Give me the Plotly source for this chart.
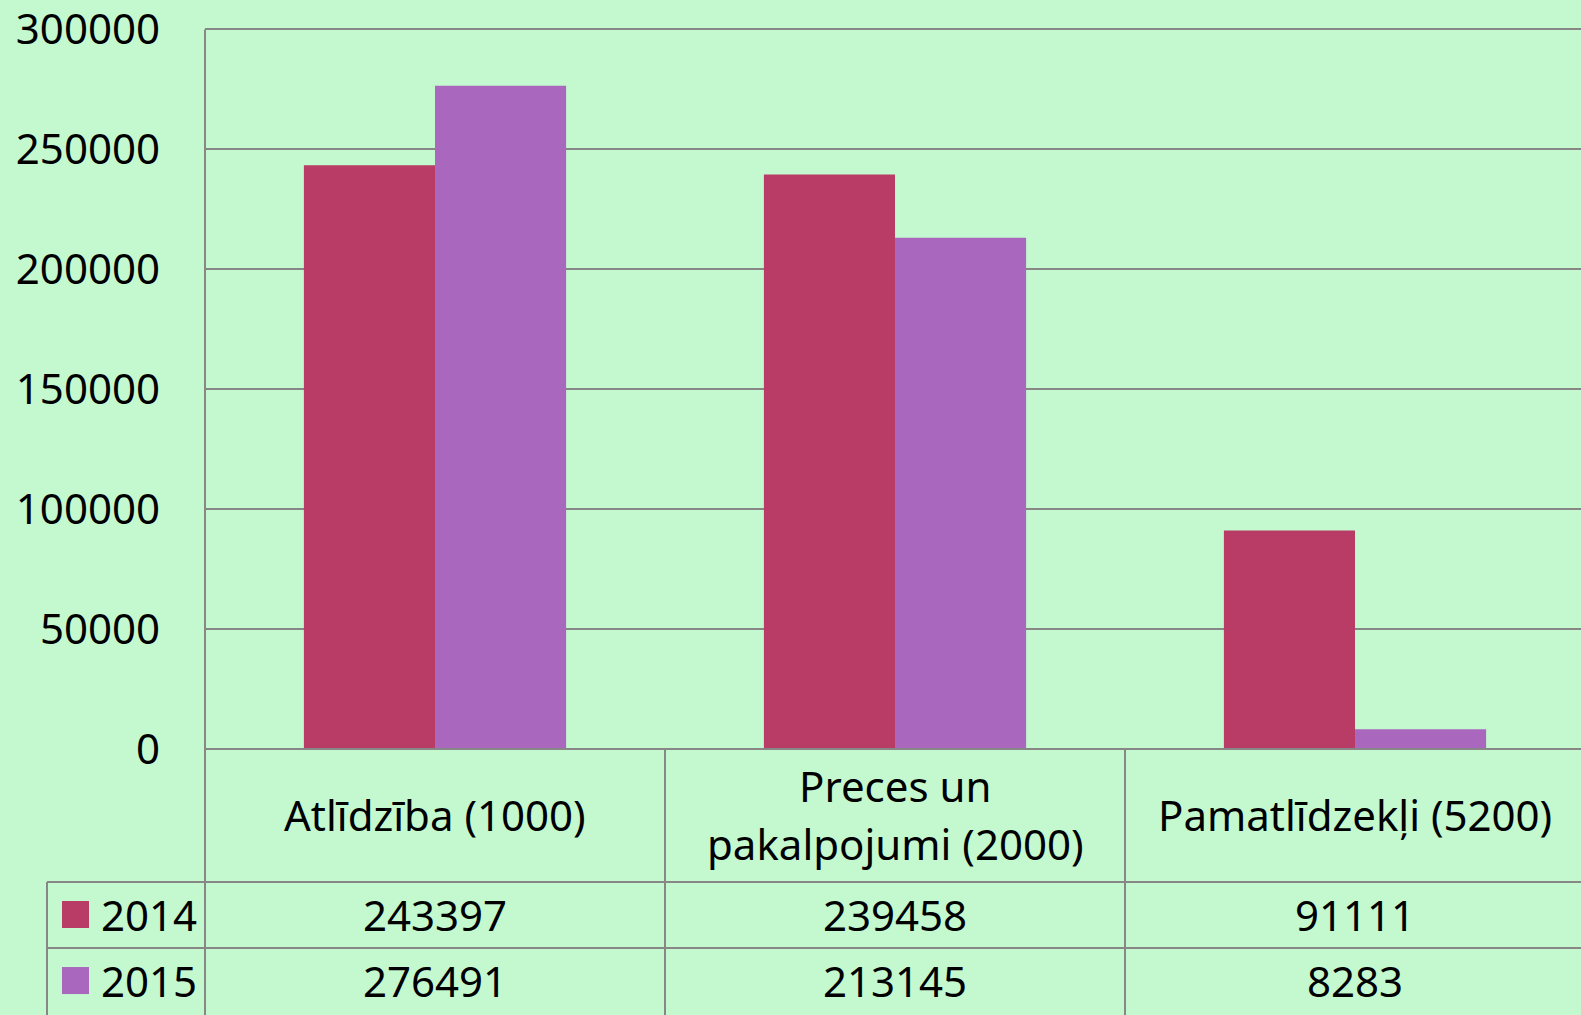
import plotly.graph_objects as go

# ---- data ----
categories = ["Atlīdzība (1000)", "Preces un pakalpojumi (2000)", "Pamatlīdzekļi (5200)"]
header_lines = [["Atlīdzība (1000)"], ["Preces un", "pakalpojumi (2000)"], ["Pamatlīdzekļi (5200)"]]
series_names = ["2014", "2015"]
values_2014 = [243397, 239458, 91111]
values_2015 = [276491, 213145, 8283]
y_ticks = [0, 50000, 100000, 150000, 200000, 250000, 300000]

series_values = [values_2014, values_2015]
colors = ["#B93C66", "#A967BE"]
BG = "#C4F8CF"
LINE = "#878787"
FONT = "Noto Sans"
FS = 42

W, H = 1581, 1015
YMAX = 301000
ZERO_PX = 749.0
TOP_PX = 29.5
PH = (ZERO_PX - TOP_PX) * YMAX / 300000.0
L, R = 205, 0
B = H - ZERO_PX
T = ZERO_PX - PH
PW = W - L - R
COLW = 460.0  # px per category

def px2x(px):
    return (px - L) / PW

def py2y(py):
    return (ZERO_PX - py) / PH

fig = go.Figure()
for name, vals, col in zip(series_names, series_values, colors):
    fig.add_trace(go.Bar(x=list(range(len(categories))), y=vals, name=name,
                         marker=dict(color=col, line=dict(width=0))))

xmax = -0.5 + PW / COLW

shapes = []
annotations = []
line = dict(color=LINE, width=2)
ncat = len(categories)
y_head_bot = py2y(882)
y_row1_bot = py2y(948)
y_bottom = py2y(H + 2)
y_top = 300000 / YMAX
x_leg_left = px2x(47)
shapes.append(dict(type="line", xref="paper", yref="paper", x0=0, x1=1.01, y0=0, y1=0, line=line))
shapes.append(dict(type="line", xref="paper", yref="paper", x0=x_leg_left, x1=1.01, y0=y_head_bot, y1=y_head_bot, line=line))
shapes.append(dict(type="line", xref="paper", yref="paper", x0=x_leg_left, x1=1.01, y0=y_row1_bot, y1=y_row1_bot, line=line))
shapes.append(dict(type="line", xref="paper", yref="paper", x0=x_leg_left, x1=x_leg_left, y0=y_head_bot, y1=y_bottom, line=line))
for i in range(ncat + 1):
    xp = i * COLW / PW
    shapes.append(dict(type="line", xref="paper", yref="paper", x0=xp, x1=xp,
                       y0=y_top if i == 0 else 0, y1=y_bottom, line=line))

# header labels
LINE_GAP = 58
HEAD_CENTER = 814
for i, lines in enumerate(header_lines):
    xc = (i + 0.5) * COLW / PW
    n = len(lines)
    for k, txt in enumerate(lines):
        yc = HEAD_CENTER + (k - (n - 1) / 2.0) * LINE_GAP
        annotations.append(dict(xref="paper", yref="paper", x=xc, y=py2y(yc), text=txt,
                                showarrow=False, xanchor="center", yanchor="middle",
                                font=dict(family=FONT, size=FS, color="black")))
# value rows
row_centers = [914, 980]
for r, (name, vals, col) in enumerate(zip(series_names, series_values, colors)):
    yc = py2y(row_centers[r])
    for i, v in enumerate(vals):
        xc = (i + 0.5) * COLW / PW
        annotations.append(dict(xref="paper", yref="paper", x=xc, y=yc, text=str(v),
                                showarrow=False, xanchor="center", yanchor="middle",
                                font=dict(family=FONT, size=FS, color="black")))
    # legend key square
    shapes.append(dict(type="rect", xref="paper", yref="paper",
                       x0=px2x(62), x1=px2x(89),
                       y0=py2y(row_centers[r] - 13 + 27), y1=py2y(row_centers[r] - 13),
                       fillcolor=col, line=dict(width=0)))
    annotations.append(dict(xref="paper", yref="paper", x=px2x(99), y=yc, text=name,
                            showarrow=False, xanchor="left", yanchor="middle",
                            font=dict(family=FONT, size=FS, color="black")))

fig.update_layout(
    width=W, height=H,
    margin=dict(l=L, r=R, t=T, b=B, pad=0),
    paper_bgcolor=BG, plot_bgcolor=BG,
    barmode="group", bargap=0.43, bargroupgap=0,
    showlegend=False,
    shapes=shapes, annotations=annotations,
    font=dict(family=FONT, size=FS, color="black"),
)
fig.update_xaxes(range=[-0.5, xmax], showticklabels=False, showgrid=False,
                 zeroline=False, showline=False, ticks="")
fig.update_yaxes(range=[0, YMAX], tickvals=y_ticks, ticktext=[str(t) for t in y_ticks],
                 showgrid=True, gridcolor=LINE, gridwidth=2,
                 zeroline=True, zerolinecolor=LINE, zerolinewidth=2,
                 showline=False, ticklabeloverflow="allow",
                 ticks="", ticklabelstandoff=44,
                 tickfont=dict(family=FONT, size=FS, color="black"))

fig.write_html("out.html", config={"displayModeBar": False},
               post_script="document.body.style.margin='0';document.body.style.background='%s';" % BG)
